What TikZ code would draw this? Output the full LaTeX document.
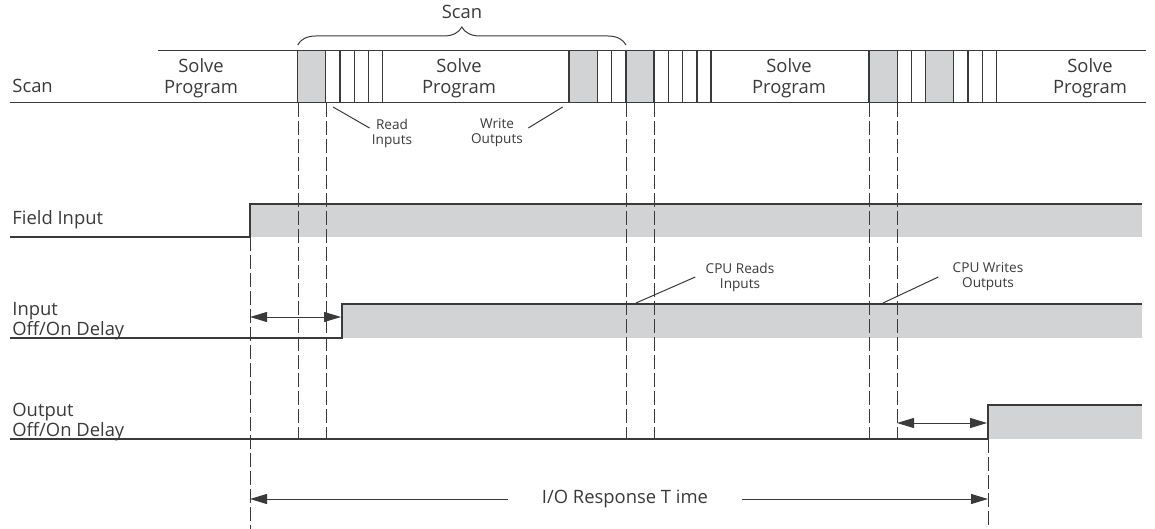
\documentclass[tikz,border=0pt]{standalone}
\usepackage{fontspec}
\setmainfont{Open Sans}
\usetikzlibrary{arrows.meta,decorations.pathreplacing}
\definecolor{iogray}{HTML}{D1D3D4}
\definecolor{ink}{HTML}{3A3A3A}
\tikzset{
  sig/.style={draw=ink,line width=.6pt},
  guide/.style={draw=ink,line width=.5pt,dash pattern=on 7pt off 2pt},
  span/.style={draw=ink,line width=.5pt,{Triangle[length=8.5pt,width=5pt]}-{Triangle[length=8.5pt,width=5pt]}},
  lbl/.style={font=\fontsize{9.2}{10.5}\selectfont,text=ink,inner sep=0pt,align=left},
  tiny/.style={font=\fontsize{6.8}{7.5}\selectfont,text=ink,inner sep=0pt,align=center}
}
\begin{document}
\begin{tikzpicture}[x=.5pt,y=-.5pt]
\useasboundingbox (0,0) rectangle (1155,529);
% scan band
\foreach \a/\b in {297.5/325.7,569/597.3,626/654,869/897.3,925.7/953.7}{\filldraw[fill=iogray,draw=ink,line width=.6pt] (\a,50.7) rectangle (\b,102.7);}
\foreach \x in {340,354.3,368.7,382.7,611.7,668.7,682.7,697,711,911.7,968,982.3,996.3}{\draw[sig] (\x,50.7)--(\x,102.7);}
\draw[sig] (158,50.7)--(1146,50.7);
\draw[sig] (10,102.7)--(1146,102.7);
\draw[ink,line width=.5pt,decorate,decoration={brace,amplitude=9pt}] (297.7,45)--(626,45);
\node[lbl] (scantop) at (462,12) {Scan};
\node[lbl,anchor=west] (scanrow) at (12,86) {Scan};
\node[lbl,align=center] (solveA) at (201,78) {Solve\\Program};
\node[lbl,align=center] (solveB) at (459,78) {Solve\\Program};
\node[lbl,align=center] (solveC) at (789,78) {Solve\\Program};
\node[lbl,align=center] (solveD) at (1090,78) {Solve\\Program};
\node[tiny] (rdin) at (392,133) {Read\\Inputs};
\node[tiny] (wrout) at (497,133) {Write\\Outputs};
\coordinate (rdA) at (333,107);
\coordinate (wrA) at (562.7,107);
\draw[ink,line width=.5pt] (rdA)--([shift={(-1pt,2.5pt)}]rdin.west);
\draw[ink,line width=.5pt] (wrA)--([shift={(2.5pt,2.5pt)}]wrout.east);
% signals
\fill[iogray] (250,204) rectangle (1142,237);
\fill[iogray] (342,304) rectangle (1142,338);
\fill[iogray] (988,405) rectangle (1142,439);
\draw[sig] (10,237)--(250,237)--(250,204)--(1142,204);
\draw[sig] (10,338)--(342,338)--(342,304)--(1142,304);
\draw[sig] (10,439)--(988,439)--(988,405)--(1142,405);
\node[lbl,anchor=west] (field) at (12,220) {Field Input};
\node[lbl,anchor=west,font=\fontsize{9.2}{8.4}\selectfont] (inlbl) at (12,321) {Input\\Off/On Delay};
\node[lbl,anchor=west,font=\fontsize{9.2}{8.4}\selectfont] (outlbl) at (12,422) {Output\\Off/On Delay};
% guides
\foreach \x in {298,326,626,654,869,897}{\draw[guide] (\x,103)--(\x,439);}
\draw[guide] (250,237)--(250,529);
\draw[guide] (988,439)--(988,529);
% cpu labels
\node[tiny] (cpurd) at (740,277) {CPU Reads\\Inputs};
\node[tiny] (cpuwr) at (988,277) {CPU Writes\\Outputs};
\coordinate (crA) at (636,303);
\coordinate (cwA) at (883,303);
\draw[ink,line width=.5pt] (crA)--([xshift=-5pt]cpurd.west);
\draw[ink,line width=.5pt] (cwA)--([xshift=-7pt]cpuwr.west);
% delays
\coordinate (idA) at (250,317);
\coordinate (idB) at (341,317);
\coordinate (odA) at (897,423);
\coordinate (odB) at (987,423);
\draw[span] (idA)--(idB);
\draw[span] (odA)--(odB);
\node[lbl,inner xsep=17pt] (resp) at (625,499) {I/O Response T ime};
\coordinate (rsA) at (250,499);
\coordinate (rsB) at (988,499);
\draw[ink,line width=.5pt,{Triangle[length=8.5pt,width=5pt]}-] (rsA)--(resp.west);
\draw[ink,line width=.5pt,-{Triangle[length=8.5pt,width=5pt]}] (resp.east)--(rsB);
\end{tikzpicture}
\end{document}
